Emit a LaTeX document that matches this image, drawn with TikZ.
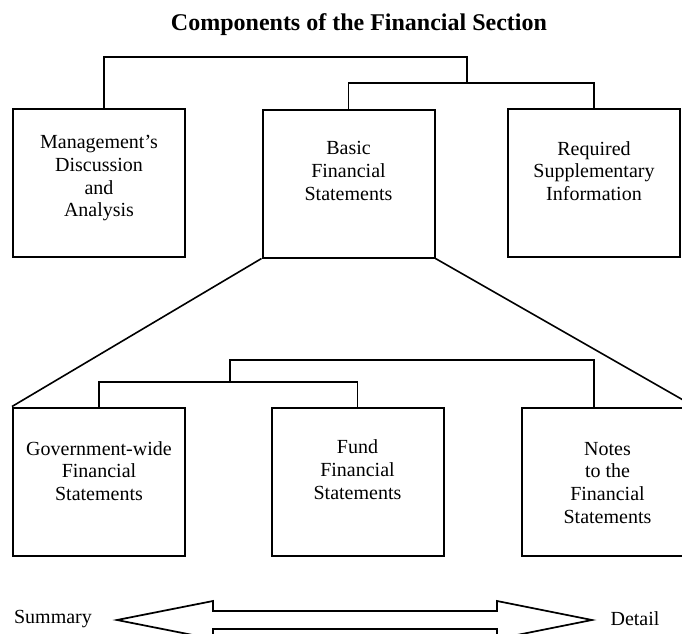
\documentclass[tikz,border=0pt]{standalone}
\usepackage{fontspec}
\setmainfont{Liberation Serif}

\tikzset{
  box/.style={draw, line width=1.5pt, minimum width=129pt, minimum height=111pt, inner sep=0pt},
  boxtext/.style={align=center, font=\fontsize{15}{17}\selectfont},
  heading/.style={font=\bfseries\fontsize{18}{20}\selectfont},
  scaleword/.style={font=\fontsize{15}{17}\selectfont}
}

\begin{document}
\begin{tikzpicture}[x=0.75pt, y=-0.75pt, line width=1.4pt]
      \useasboundingbox (0,0) rectangle (682,633);
      \clip (0,0) rectangle (682,633);
      \draw
        (359,25) node[heading] (title) {Components of the Financial Section}
        (99,183) node[box, label={[name=mdatext, boxtext, yshift=3.5pt]center:Management's\\Discussion\\and\\Analysis}] (mda) {}
        (348.5,183.5) node[box, label={[name=bfstext, boxtext, yshift=9.5pt]center:Basic\\Financial\\Statements}] (bfs) {}
        (594,183) node[box, label={[name=rsitext, boxtext, yshift=9pt]center:Required\\Supplementary\\Information}] (rsi) {}
        (99,481.5) node[box, label={[name=gwfstext, boxtext, yshift=8pt]center:Government-wide\\Financial\\Statements}] (gwfs) {}
        (357.5,481.5) node[box, label={[name=ffstext, boxtext, yshift=9pt]center:Fund\\Financial\\Statements}] (ffs) {}
        (607.5,481.5) node[box, label={[name=notestext, boxtext, yshift=-1pt]center:Notes\\to the\\Financial\\Statements}] (notes) {}
        (53,619) node[scaleword] (summary) {Summary}
        (635,619) node[scaleword] (detail) {Detail};
      \coordinate (topj) at (467,83);
      \coordinate (botj) at (230,382);
      \begin{scope}[-]
        \draw ([xshift=3.75pt]mda.north) -- ++(0,-51) -| (topj);
        \draw (bfs.north) |- (topj) -| (rsi.north);
        \draw (gwfs.north) |- (botj) -| (ffs.north);
        \draw (botj) -- ++(0,-22) -| ([xshift=-10pt]notes.north);
        \draw[line width=1.2pt] (bfs.south west) to (gwfs.north west);
        \draw[line width=1.2pt] (bfs.south east) to (notes.north east);
      \end{scope}
      % hollow two-way arrow between the two ends of the scale
      \draw[line width=1.3pt, line join=miter]
        (117,620) -- (213,601) -- (213,611) -- (497,611) -- (497,601) -- (592,620)
        -- (497,639) -- (497,629) -- (213,629) -- (213,639) -- cycle;
    \end{tikzpicture}
\end{document}
